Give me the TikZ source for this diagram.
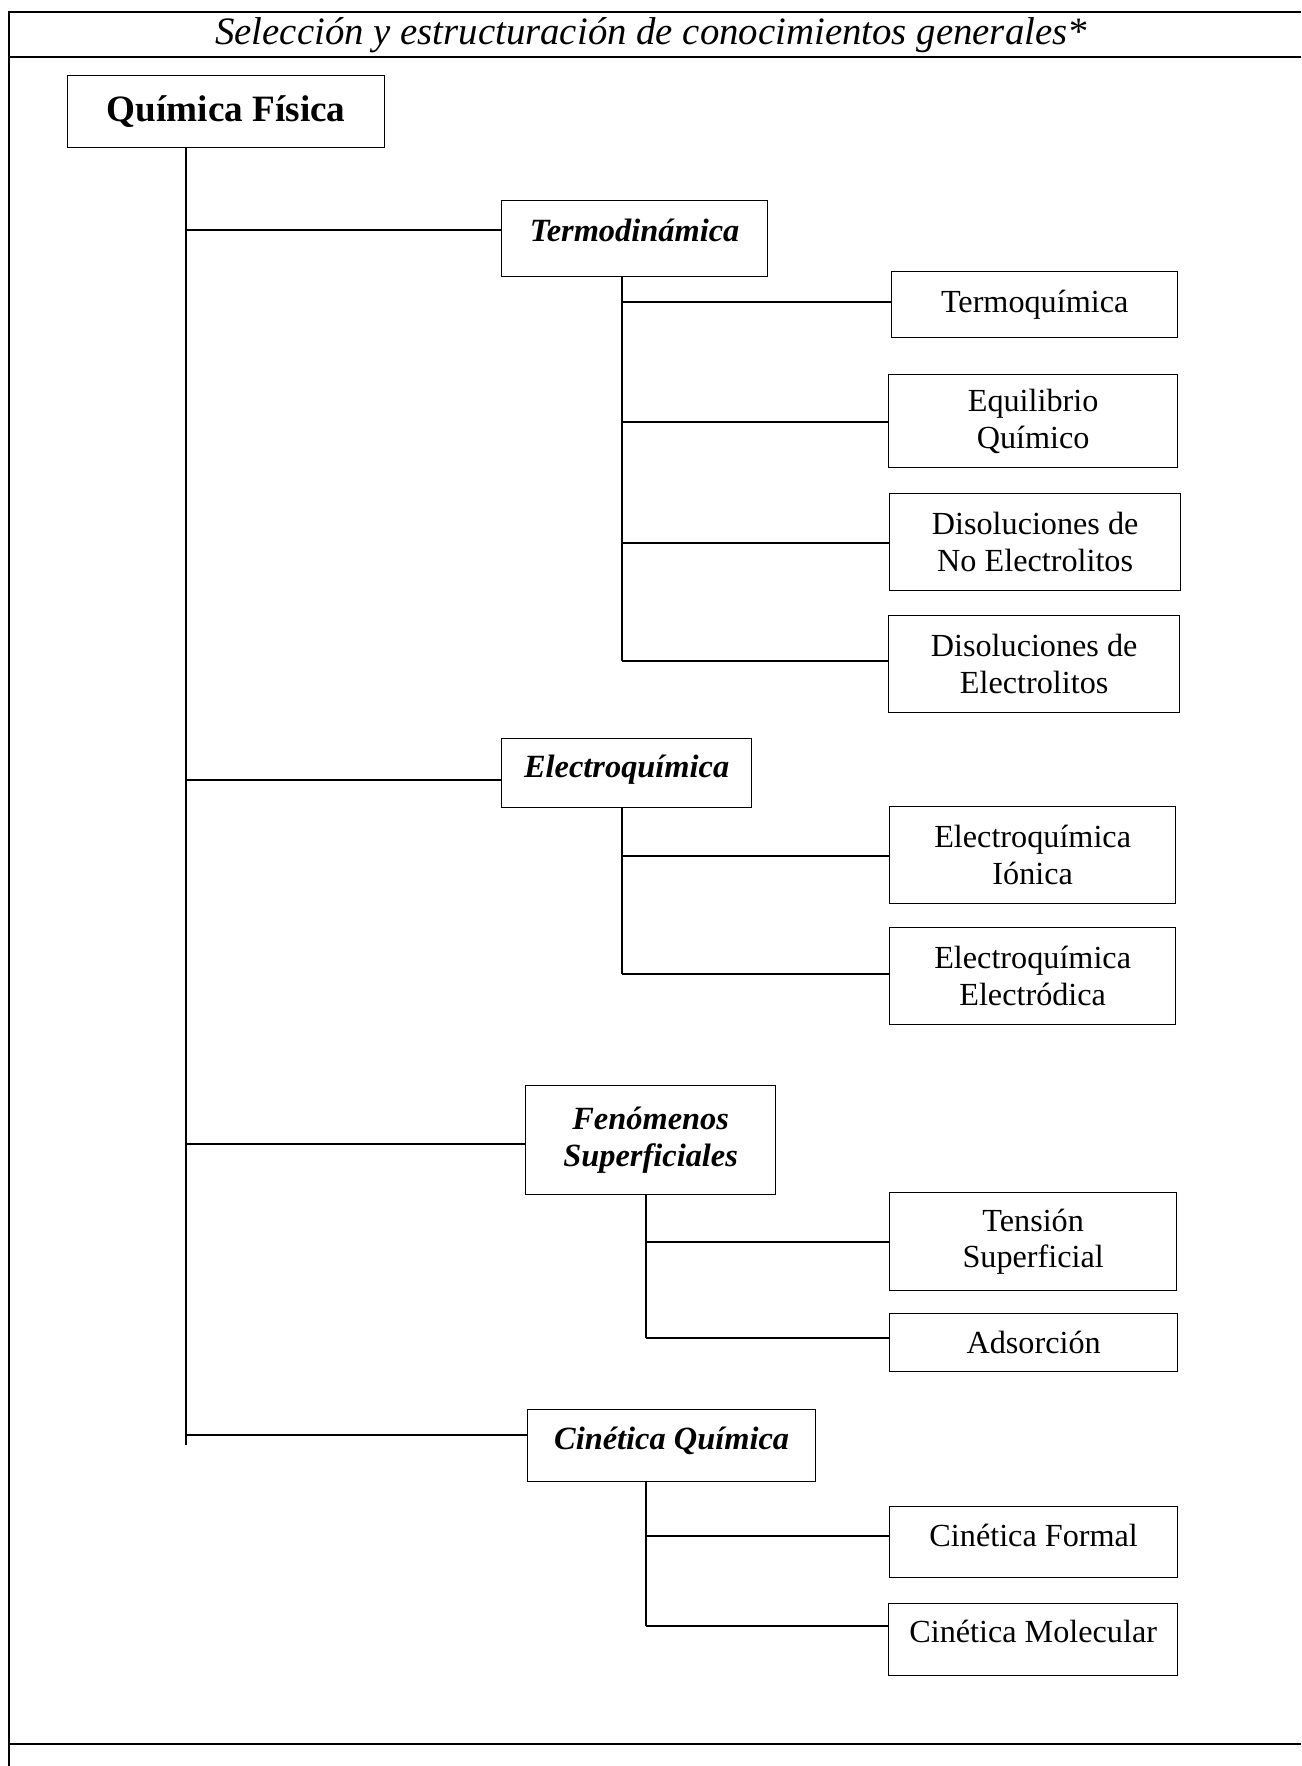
\documentclass[tikz,border=0pt]{standalone}
\usepackage{fontspec}
\setmainfont{Liberation Serif}
\usepackage{tikz}

\begin{document}
\begin{tikzpicture}[x=1pt,y=-1pt,
    marco/.style={line width=2pt},
    linea/.style={line width=1.5pt},
    titulo/.style={inner sep=0pt,font=\fontsize{38.8}{44}\selectfont\itshape},
    raiz/.style={draw,line width=1.3pt,inner sep=0pt,anchor=north west,font=\fontsize{37.2}{42}\selectfont\bfseries},
    rama/.style={draw,line width=1.3pt,inner sep=0pt,anchor=north west,align=center,font=\fontsize{32.4}{36.8}\selectfont\bfseries\itshape},
    hoja/.style={draw,line width=1.3pt,inner sep=0pt,anchor=north west,align=center,font=\fontsize{32.2}{36.8}\selectfont}]
    \useasboundingbox (0,0) rectangle (1301,1766);

    % table lines
    \draw[marco] (9,1766) -- (9,12) -- (1301,12);
    \draw[marco] (9,57) -- (1301,57);
    \draw[marco] (9,1744) -- (1301,1744);

    % title
    \node[titulo] (tit) at (651,35) {Selección y estructuración de conocimientos generales*};

    % boxes
    \node[raiz, minimum width=317pt, minimum height=72pt] (qf) at (67,75) {Química Física};

    \node[rama, minimum width=266pt, text height=41pt, text depth=35pt] (termo) at (501,200) {Termodinámica};
    \node[hoja, minimum width=286pt, minimum height=66pt] (tq) at (891,271) {Termoquímica};
    \node[hoja, minimum width=289pt, minimum height=93pt] (eq) at (888,374) {Equilibrio\\Químico};
    \node[hoja, minimum width=291pt, minimum height=97pt] (dne) at (889,493) {Disoluciones de\\No Electrolitos};
    \node[hoja, minimum width=291pt, minimum height=97pt] (de) at (888,615) {Disoluciones de\\Electrolitos};

    \node[rama, minimum width=250pt, text height=39pt, text depth=30pt] (electro) at (501,738) {Electroquímica};
    \node[hoja, minimum width=286pt, minimum height=97pt] (ion) at (889,806) {Electroquímica\\Iónica};
    \node[hoja, minimum width=286pt, minimum height=97pt] (eld) at (889,927) {Electroquímica\\Electródica};

    \node[rama, minimum width=250pt, minimum height=109pt] (fen) at (525,1085) {Fenómenos\\Superficiales};
    \node[hoja, minimum width=287pt, minimum height=98pt] (ten) at (889,1192) {Tensión\\Superficial};
    \node[hoja, minimum width=288pt, minimum height=58pt] (ads) at (889,1313) {Adsorción};

    \node[rama, minimum width=288pt, text height=40pt, text depth=32pt] (cin) at (527,1409) {Cinética Química};
    \node[hoja, minimum width=288pt, text height=40pt, text depth=31pt] (cf) at (889,1506) {Cinética Formal};
    \node[hoja, minimum width=289pt, text height=39pt, text depth=33pt] (cm) at (888,1603) {Cinética Molecular};

    % main trunk
    \coordinate (m1) at (186,230);
    \coordinate (m2) at (186,780);
    \coordinate (m3) at (186,1144);
    \coordinate (m4) at (186,1435);
    \coordinate (mfin) at (186,1445);
    \draw[linea] (mfin |- qf.south) -- (mfin);
    \draw[linea] (m1) -- (m1 -| termo.west);
    \draw[linea] (m2) -- (m2 -| electro.west);
    \draw[linea] (m3) -- (m3 -| fen.west);
    \draw[linea] (m4) -- (m4 -| cin.west);

    % termodinamica
    \coordinate (t1) at (622,302);
    \coordinate (t2) at (622,422);
    \coordinate (t3) at (622,543);
    \coordinate (t4) at (622,661);
    \draw[linea] (t4 |- termo.south) -- (t4);
    \draw[linea] (t1) -- (t1 -| tq.west);
    \draw[linea] (t2) -- (t2 -| eq.west);
    \draw[linea] (t3) -- (t3 -| dne.west);
    \draw[linea] (t4) -- (t4 -| de.west);

    % electroquimica
    \coordinate (e1) at (622,856);
    \coordinate (e2) at (622,974);
    \draw[linea] (e2 |- electro.south) -- (e2);
    \draw[linea] (e1) -- (e1 -| ion.west);
    \draw[linea] (e2) -- (e2 -| eld.west);

    % fenomenos superficiales
    \coordinate (f1) at (646,1242);
    \coordinate (f2) at (646,1338);
    \draw[linea] (f2 |- fen.south) -- (f2);
    \draw[linea] (f1) -- (f1 -| ten.west);
    \draw[linea] (f2) -- (f2 -| ads.west);

    % cinetica quimica
    \coordinate (c1) at (646,1536);
    \coordinate (c2) at (646,1626);
    \draw[linea] (c2 |- cin.south) -- (c2);
    \draw[linea] (c1) -- (c1 -| cf.west);
    \draw[linea] (c2) -- (c2 -| cm.west);
\end{tikzpicture}
\end{document}
